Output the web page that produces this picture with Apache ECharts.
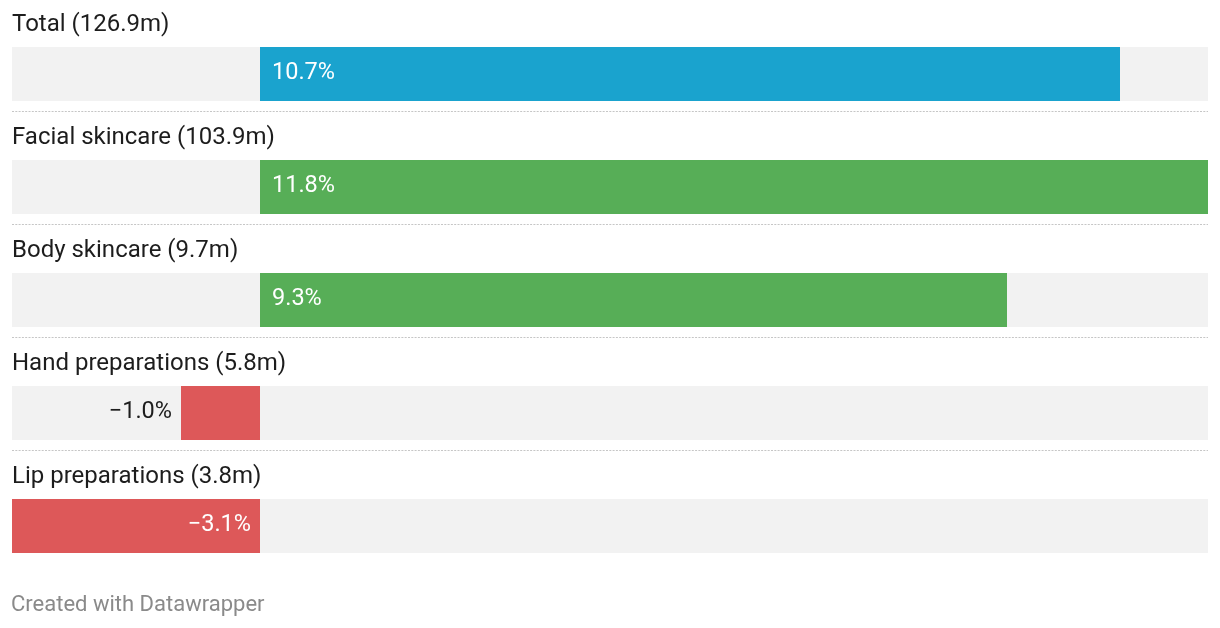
<!DOCTYPE html>
<html>
<head>
<meta charset="utf-8">
<script src="https://cdn.jsdelivr.net/npm/echarts@6/dist/echarts.min.js"></script>
<style>
html,body{margin:0;padding:0;background:#fff;}
#chart{width:1220px;height:628px;}
</style>
</head>
<body>
<div id="chart"></div>
<script>
const categories = ['Total (126.9m)', 'Facial skincare (103.9m)', 'Body skincare (9.7m)', 'Hand preparations (5.8m)', 'Lip preparations (3.8m)'];
const values = [10.7, 11.8, 9.3, -1.0, -3.1];
const barColors = ['#1aa3ce', '#57ae57', '#57ae57', '#dd5859', '#dd5859'];
const valueLabels = ['10.7%', '11.8%', '9.3%', '\u22121.0%', '\u22123.1%'];
const xMin = -3.1, xMax = 11.8;

const FONT = 'Roboto';
const chart = echarts.init(document.getElementById('chart'), null, {renderer: 'canvas'});

function renderItem(params, api) {
  const idx = api.value(0);
  const val = api.value(1);
  const c0 = api.coord([0, idx]);
  const cMin = api.coord([xMin, idx]);
  const cMax = api.coord([xMax, idx]);
  const cv = api.coord([val, idx]);
  const cy = c0[1];
  const top = Math.round(cy - 26), h = 54;
  const zx = Math.floor(c0[0]), vx = Math.round(cv[0]);
  const children = [];
  children.push({type: 'rect', shape: {x: cMin[0], y: top, width: cMax[0] - cMin[0], height: h}, style: {fill: '#f2f2f2'}});
  const x0 = Math.min(zx, vx), x1 = Math.max(zx, vx);
  children.push({type: 'rect', shape: {x: x0, y: top, width: x1 - x0, height: h}, style: {fill: barColors[idx]}});
  children.push({type: 'text', style: {x: cMin[0], y: cy - 47.5, text: categories[idx], font: '400 24px ' + FONT, fill: '#1d1d1d', textAlign: 'left', textVerticalAlign: 'middle'}});
  const barW = x1 - x0;
  let lx, align, fill;
  if (val >= 0) { lx = zx + 12; align = 'left'; fill = '#ffffff'; }
  else if (barW > 90) { lx = zx - 9; align = 'right'; fill = '#ffffff'; }
  else { lx = vx - 9; align = 'right'; fill = '#1d1d1d'; }
  children.push({type: 'text', style: {x: lx, y: cy + 1, text: valueLabels[idx], font: '400 23.5px ' + FONT, fill: fill, textAlign: align, textVerticalAlign: 'middle'}});
  if (idx < categories.length - 1) {
    const ly = Math.round(cy + 38) + 0.5;
    children.push({type: 'line', shape: {x1: cMin[0], y1: ly, x2: cMax[0], y2: ly}, style: {stroke: '#c6c6c6', lineWidth: 1, lineDash: [2, 1.3]}});
  }
  return {type: 'group', children: children};
}

chart.setOption({
  animation: false,
  grid: {left: 12, right: 12, top: 16, height: 565},
  xAxis: {type: 'value', min: xMin, max: xMax, show: false},
  yAxis: {type: 'category', data: categories, inverse: true, show: false},
  graphic: [{type: 'text', left: 11, top: 594, style: {text: 'Created with Datawrapper', font: '400 22px ' + FONT, fill: '#8a8a8a'}}],
  series: [{
    type: 'custom',
    renderItem: renderItem,
    data: values.map((v, i) => [i, v]),
    encode: {x: 1, y: 0}
  }]
});
</script>
</body>
</html>
